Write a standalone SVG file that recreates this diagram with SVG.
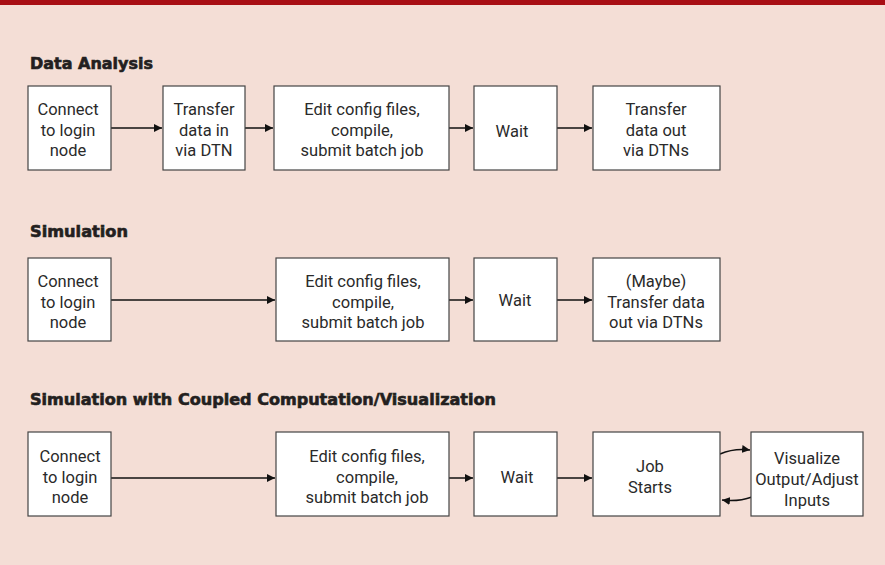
<svg xmlns="http://www.w3.org/2000/svg" width="885" height="565" viewBox="0 0 885 565">
<defs>
<marker id="ah" viewBox="0 0 10 10" refX="10" refY="5" markerWidth="8" markerHeight="8" markerUnits="userSpaceOnUse" orient="auto">
<path d="M0,0 L10,5 L0,10 z" fill="#111"/>
</marker>
<style>
.box{fill:#fff;stroke:#444;stroke-width:1.2}
.t{font-family:Roboto,"Noto Sans",sans-serif;font-size:16.5px;fill:#2a2a2a;text-anchor:middle}
.h{font-family:"DejaVu Sans","Liberation Sans",sans-serif;font-weight:bold;font-size:15px;fill:#231f20;stroke:#231f20;stroke-width:0.6}
.c{stroke:#111;stroke-width:1.5;fill:none;marker-end:url(#ah)}
</style>
</defs>
<rect x="0" y="0" width="885" height="565" fill="#f4ded6"/>
<rect x="0" y="0" width="885" height="5" fill="#a80e14"/>
<text class="h" x="30" y="69" textLength="123" lengthAdjust="spacingAndGlyphs">Data Analysis</text>
<text class="h" x="30" y="237" textLength="98" lengthAdjust="spacingAndGlyphs">Simulation</text>
<text class="h" x="30" y="405" textLength="466" lengthAdjust="spacingAndGlyphs">Simulation with Coupled Computation/Visualization</text>
<g id="connectors">
<line class="c" x1="111" y1="128" x2="162" y2="128"/>
<line class="c" x1="245" y1="128" x2="273" y2="128"/>
<line class="c" x1="449" y1="128" x2="473" y2="128"/>
<line class="c" x1="557" y1="128" x2="592" y2="128"/>
<line class="c" x1="111" y1="300" x2="275" y2="300"/>
<line class="c" x1="449" y1="300" x2="473" y2="300"/>
<line class="c" x1="557" y1="300" x2="592" y2="300"/>
<line class="c" x1="111" y1="478" x2="275" y2="478"/>
<line class="c" x1="449" y1="478" x2="473" y2="478"/>
<line class="c" x1="557" y1="478" x2="592" y2="478"/>
<path class="c" d="M720,454 Q734,448 750,450"/>
<path class="c" d="M752,497 Q738,502 722,500"/>
</g>
<g id="da1"><rect class="box" x="28" y="86" width="83" height="84"/><text class="t" x="68" y="115">Connect</text><text class="t" x="68" y="135.5">to login</text><text class="t" x="68" y="156">node</text></g>
<g id="da2"><rect class="box" x="163" y="86" width="82" height="84"/><text class="t" x="204" y="115">Transfer</text><text class="t" x="204" y="135.5">data in</text><text class="t" x="204" y="156">via DTN</text></g>
<g id="da3"><rect class="box" x="274" y="86" width="175" height="84"/><text class="t" x="362" y="115">Edit config files,</text><text class="t" x="362" y="135.5">compile,</text><text class="t" x="362" y="156">submit batch job</text></g>
<g id="da4"><rect class="box" x="474" y="86" width="83" height="84"/><text class="t" x="512" y="137">Wait</text></g>
<g id="da5"><rect class="box" x="593" y="86" width="127" height="84"/><text class="t" x="656" y="115">Transfer</text><text class="t" x="656" y="135.5">data out</text><text class="t" x="656" y="156">via DTNs</text></g>
<g id="s1"><rect class="box" x="28" y="258" width="83" height="83"/><text class="t" x="68" y="287">Connect</text><text class="t" x="68" y="307.5">to login</text><text class="t" x="68" y="328">node</text></g>
<g id="s2"><rect class="box" x="276" y="258" width="173" height="83"/><text class="t" x="363" y="287">Edit config files,</text><text class="t" x="363" y="307.5">compile,</text><text class="t" x="363" y="328">submit batch job</text></g>
<g id="s3"><rect class="box" x="474" y="258" width="83" height="83"/><text class="t" x="515" y="306">Wait</text></g>
<g id="s4"><rect class="box" x="593" y="258" width="127" height="83"/><text class="t" x="656" y="287">(Maybe)</text><text class="t" x="656" y="307.5">Transfer data</text><text class="t" x="656" y="328">out via DTNs</text></g>
<g id="c1"><rect class="box" x="28" y="432" width="83" height="84"/><text class="t" x="70" y="462">Connect</text><text class="t" x="70" y="482.5">to login</text><text class="t" x="70" y="503">node</text></g>
<g id="c2"><rect class="box" x="276" y="432" width="173" height="84"/><text class="t" x="367" y="462">Edit config files,</text><text class="t" x="367" y="482.5">compile,</text><text class="t" x="367" y="503">submit batch job</text></g>
<g id="c3"><rect class="box" x="474" y="432" width="83" height="84"/><text class="t" x="517" y="483">Wait</text></g>
<g id="c4"><rect class="box" x="593" y="432" width="127" height="84"/><text class="t" x="650" y="472">Job</text><text class="t" x="650" y="493">Starts</text></g>
<g id="c5"><rect class="box" x="751" y="432" width="112" height="84"/><text class="t" x="807" y="464">Visualize</text><text class="t" x="807" y="485">Output/Adjust</text><text class="t" x="807" y="506">Inputs</text></g>
</svg>
